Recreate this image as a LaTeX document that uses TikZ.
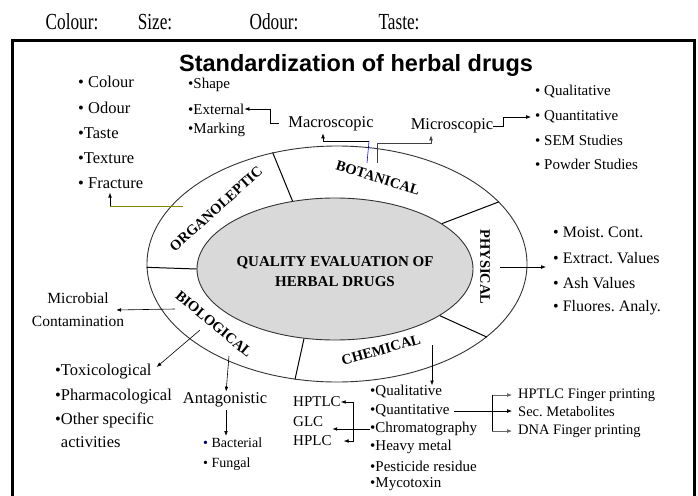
\documentclass[tikz,border=0pt]{standalone}
\usepackage{fontspec}
\setmainfont{Liberation Serif}
\newfontfamily\titlefont{Liberation Sans}
\usepackage{tikz}
\usetikzlibrary{arrows.meta,positioning,shapes.geometric,calc}
\usepackage{xcolor}
\frenchspacing

\begin{document}
\begin{tikzpicture}[x=1pt, y=-1pt, every node/.style={inner sep=0pt}]
\tikzset{head/.style={font=\fontsize{23}{23}\selectfont, xscale=0.75}}
\tikzset{item/.style={anchor=west, font=\fontsize{15}{17}\selectfont}}
\tikzset{bigitem/.style={anchor=west, font=\fontsize{16.5}{19}\selectfont}}
\tikzset{smallitem/.style={anchor=west, font=\fontsize{14}{16}\selectfont}}
\tikzset{ring/.style={font=\fontsize{14.5}{16}\selectfont\bfseries}}
\tikzset{arrow/.style={-{Latex[length=1.7mm,width=1.3mm]}, line width=0.6pt}}
\tikzset{link/.style={line width=0.6pt}}
\useasboundingbox (0,0) rectangle (698,495);
\fill[white] (0,0) rectangle (698,495);
\draw[line width=3pt] (12,41) rectangle (694,502);

% header
\node[head] (colour) at (72,22) {Colour:};
\node[head] (size) at (155,22) {Size:};
\node[head] (odour) at (274,22) {Odour:};
\node[head] (taste) at (399,22) {Taste:};
\node[font=\titlefont\fontsize{23.5}{24}\selectfont\bfseries] (title) at (356,65) {Standardization of herbal drugs};

% rings
\node[draw=black!80, line width=0.9pt, ellipse, minimum width=380pt, minimum height=236pt] (outer) at (337,264) {};
\node[draw=black!80, line width=0.9pt, fill=black!15, ellipse, minimum width=276pt, minimum height=142pt] (inner) at (335,269) {};
\draw[line width=1pt] (inner.122) -- (outer.120);
\draw[line width=1pt] (inner.23) -- (outer.21);
\draw[line width=1pt] (inner.-24) -- (outer.-26);
\draw[line width=1pt] (inner.246) -- (outer.250);
\draw[line width=1pt] (inner.180) -- (outer.181);
\node[align=center, font=\fontsize{15}{20}\selectfont\bfseries] (qe) at (335,272) {QUALITY EVALUATION OF\\HERBAL DRUGS};
\node[ring, rotate=42] (organo) at (216,209) {ORGANOLEPTIC};
\node[ring, rotate=-17] (botan) at (378,178) {BOTANICAL};
\node[ring, rotate=-90] (phys) at (485,267) {PHYSICAL};
\node[ring, rotate=16] (chem) at (381,350) {CHEMICAL};
\node[ring, rotate=-40] (bio) at (214,324) {BIOLOGICAL};

% organoleptic
\node[bigitem] (colour2) at (78,82) {• Colour};
\node[bigitem] (odour2) at (78,108) {• Odour};
\node[bigitem] (taste2) at (78,133) {•Taste};
\node[bigitem] (texture) at (78,158) {•Texture};
\node[bigitem] (fracture) at (78,183) {• Fracture};
\coordinate (orgA) at (183,206);
\coordinate (fracK) at (110,206);
\draw[link, olive] (orgA) -- (fracK);
\draw[arrow, shorten >=4pt] (fracK) -- (fracK |- fracture.south);

% botanical
\node[item] (shape) at (188,85) {•Shape};
\node[item] (external) at (188,109) {•External};
\node[item] (marking) at (188,130) {•Marking};
\node[font=\fontsize{16.5}{19}\selectfont] (macro) at (331,124) {Macroscopic};
\node[font=\fontsize{16.5}{19}\selectfont] (micro) at (452,126) {Microscopic};
\coordinate (macL) at (279,123);
\draw[arrow] (macL) -- ++(-9,0) |- (external.east);
\coordinate (botA) at (367,163);
\coordinate (botB) at (369,141);
\draw[link, blue] (botA) -- (botB);
\draw[arrow, shorten >=2pt] (botB) -| ([xshift=-8pt]macro.south);
\coordinate (botC) at (377,163);
\draw[arrow, black!75, shorten >=2pt] (botC) -- ++(0,-20) -| ([xshift=-21pt]micro.south);
\node[item] (mqual) at (535,92) {• Qualitative};
\node[item] (mquant) at (535,117) {• Quantitative};
\node[item] (sem) at (535,140) {• SEM Studies};
\node[item] (powder) at (535,164) {• Powder Studies};
\draw[arrow, shorten >=4pt] (micro.east) -- ++(10,0) |- (mquant.west);

% physical
\node[anchor=west, font=\fontsize{16}{19}\selectfont] (moist) at (553,232) {• Moist. Cont.};
\node[anchor=west, font=\fontsize{16}{19}\selectfont] (extract) at (553,258) {• Extract. Values};
\node[anchor=west, font=\fontsize{16}{19}\selectfont] (ash) at (553,283) {• Ash Values};
\node[anchor=west, font=\fontsize{16}{19}\selectfont] (fluor) at (553,308) {• Fluores. Analy.};
\coordinate (phyA) at (500,267);
\draw[arrow, shorten >=7pt] (phyA) -- (phyA -| extract.west);

% biological
\node[align=center, font=\fontsize{15.5}{23}\selectfont] (microbial) at (78,310) {Microbial\\Contamination};
\coordinate (bioA) at (175,309);
\draw[arrow] (bioA) -- ([xshift=-8pt]microbial.east);
\node[bigitem] (tox) at (55,372) {•Toxicological};
\node[bigitem] (pharma) at (55,397) {•Pharmacological};
\node[bigitem, align=left, font=\fontsize{16.5}{23}\selectfont] (other) at (55,430) {•Other specific\\\phantom{•}activities};
\coordinate (bioB) at (200,330);
\draw[arrow] (bioB) -- ([xshift=5pt,yshift=5pt]tox.east);
\node[font=\fontsize{16.5}{19}\selectfont] (antag) at (225,400) {Antagonistic};
\coordinate (bioC) at (229,356);
\draw[arrow, shorten >=1pt] (bioC) -- ([xshift=1pt]antag.north);
\node[smallitem] (bacterial) at (203,443) {\textcolor{blue!50!black}{•} Bacterial};
\node[smallitem] (fungal) at (203,464) {• Fungal};
\draw[arrow, shorten <=3pt, shorten >=2pt] ([xshift=1pt]antag.south) -- ([xshift=1pt]antag.south |- bacterial.north);

% chemical
\node[item] (cqual) at (370,392) {•Qualitative};
\node[item] (cquant) at (370,411) {•Quantitative};
\node[item] (chrom) at (370,429) {•Chromatography};
\node[item] (heavy) at (370,447) {•Heavy metal};
\node[item] (pest) at (370,466) {•Pesticide residue};
\node[item] (myco) at (370,484) {•Mycotoxin};
\coordinate (chemA) at (432,345);
\draw[arrow] (chemA) -- (chemA |- cqual.north);
\node[item] (hptlc) at (293,402) {HPTLC};
\node[item] (glc) at (293,422) {GLC};
\node[item] (hplc) at (293,441) {HPLC};
\draw[arrow, shorten >=9pt] (chrom.west) -- (chrom.west -| glc.east);
\draw[arrow] ([xshift=-17pt]chrom.west) |- (hptlc.east);
\draw[arrow] ([xshift=-17pt]chrom.west) |- ([xshift=12pt]hplc.east);
\node[item, font=\fontsize{14.5}{17}\selectfont] (hfp) at (518,395) {HPTLC Finger printing};
\node[item, font=\fontsize{14.5}{17}\selectfont] (sec) at (518,412) {Sec. Metabolites};
\node[item, font=\fontsize{14.5}{17}\selectfont] (dna) at (518,431) {DNA Finger printing};
\draw[arrow, shorten >=6pt] ([xshift=4pt]cquant.east) -- (cquant.east -| sec.west);
\coordinate (split) at (492,412);
\draw[arrow, black!60, shorten >=6pt] (split) |- (hfp.west);
\draw[arrow, black!60, shorten >=6pt] (split) |- (dna.west);
\draw[link] (split |- hfp.west) -- (split |- dna.west);
\end{tikzpicture}
\end{document}
